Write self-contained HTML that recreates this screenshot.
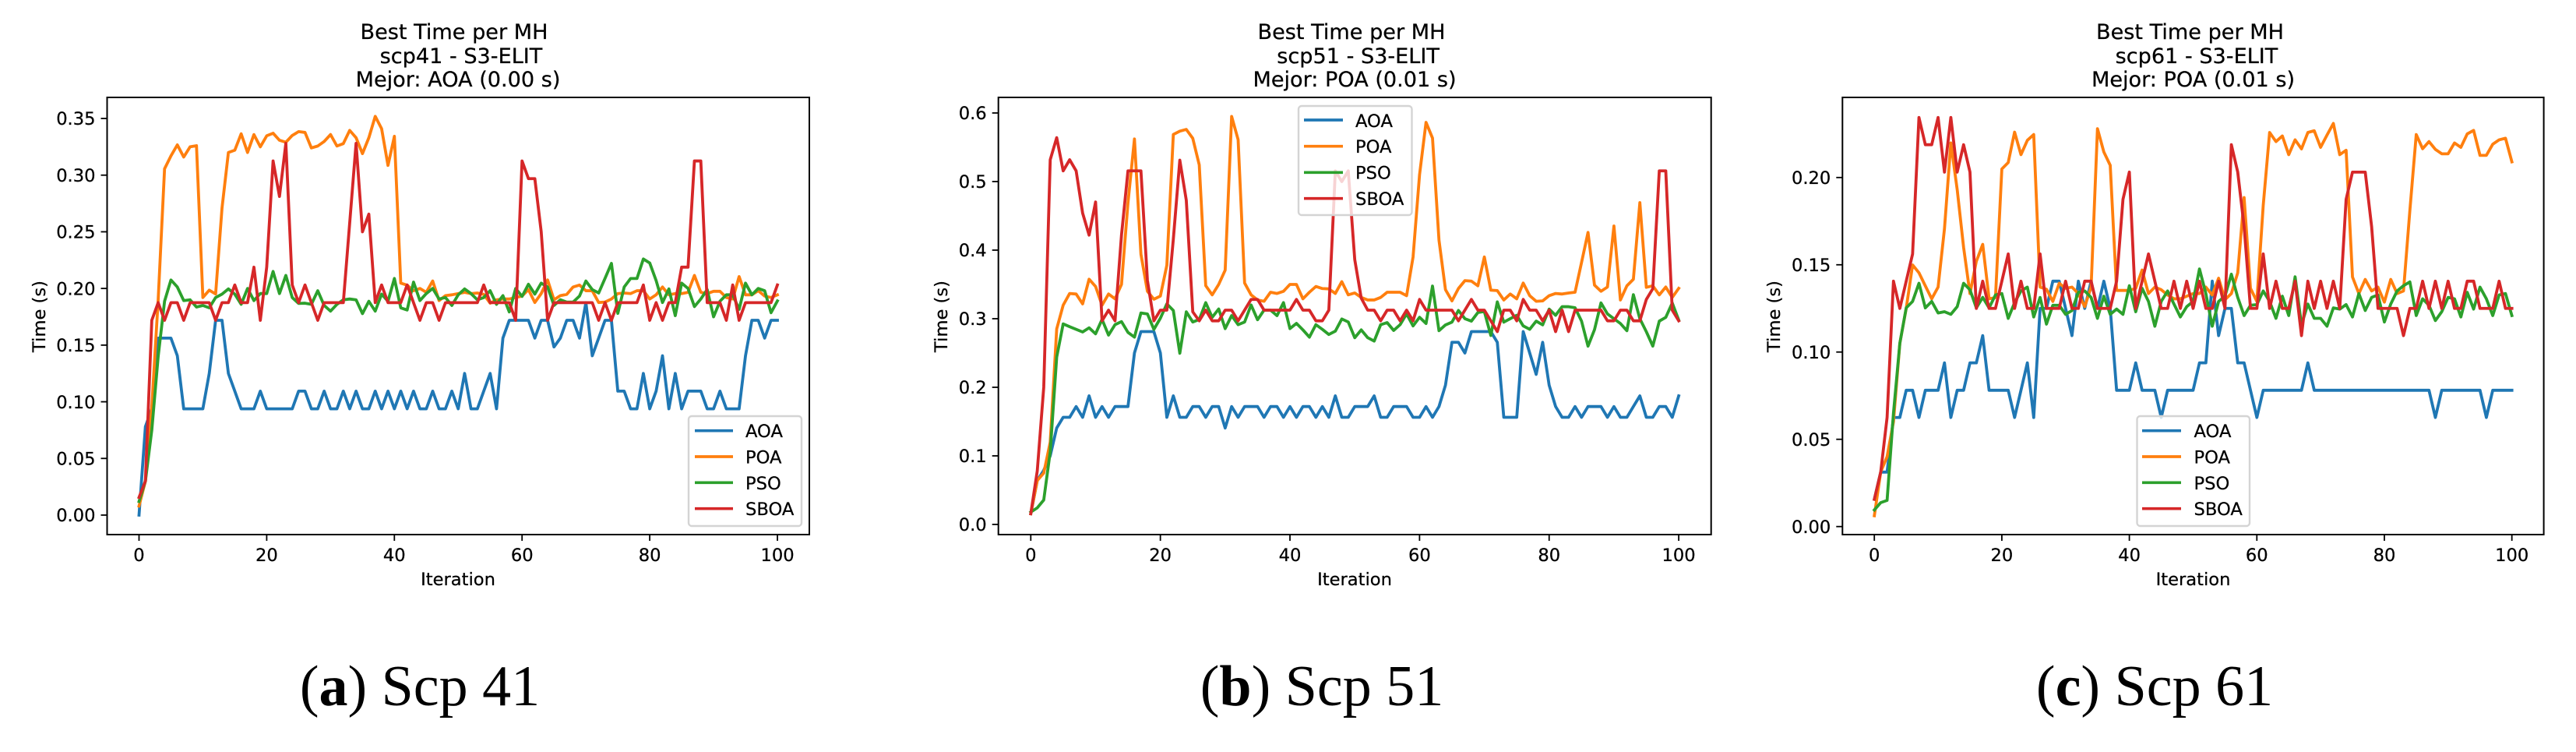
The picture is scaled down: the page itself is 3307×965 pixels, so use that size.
<!DOCTYPE html>
<html lang="en">
<head>
<meta charset="utf-8">
<title>Best Time per MH</title>
<style>
html,body{margin:0;padding:0;background:#fff;}
body{width:3307px;height:965px;overflow:hidden;}
svg{display:block;}
.t{font-family:"DejaVu Sans","Liberation Sans",sans-serif;font-size:22.6px;fill:#000;stroke:#000;stroke-width:.25;}
.t.title{font-size:27.1px;}
.cap{font-family:"Liberation Serif",serif;font-size:74px;fill:#000;}
.cap .b{font-weight:bold;}
.legend-frame{fill:rgba(255,255,255,.8);stroke:#d4d4d4;stroke-width:2.4;}
.h{stroke-width:3.7;fill:none;}
</style>
</head>
<body>
<svg id="figure" xmlns="http://www.w3.org/2000/svg" width="3307" height="965" viewBox="0 0 3307 965">

<g id="panel-a">
  <text class="t title" x="583" y="50" text-anchor="middle">Best Time per MH</text>
  <text class="t title" x="592" y="81" text-anchor="middle">scp41 - S3-ELIT</text>
  <text class="t title" x="588" y="111" text-anchor="middle">Mejor: AOA (0.00 s)</text>
  <text class="t" x="588" y="751" text-anchor="middle">Iteration</text>
  <text class="t" transform="translate(58,406) rotate(-90)" text-anchor="middle">Time (s)</text>
  <g id="marks-a"></g>
  <g>
    <rect class="legend-frame" x="884" y="534" width="145" height="141" rx="4"/>
    <line class="h" x1="892" x2="941" y1="552.7" y2="552.7" stroke="#1f77b4"/>
    <text class="t" x="957" y="561">AOA</text>
    <line class="h" x1="892" x2="941" y1="586" y2="586" stroke="#ff7f0e"/>
    <text class="t" x="957" y="594.5">POA</text>
    <line class="h" x1="892" x2="941" y1="619.3" y2="619.3" stroke="#2ca02c"/>
    <text class="t" x="957" y="628">PSO</text>
    <line class="h" x1="892" x2="941" y1="652.7" y2="652.7" stroke="#d62728"/>
    <text class="t" x="957" y="661">SBOA</text>
  </g>
  <text class="cap" x="539" y="905" text-anchor="middle">(<tspan class="b">a</tspan>) Scp 41</text>
</g>

<g id="panel-b">
  <text class="t title" x="1735" y="50" text-anchor="middle">Best Time per MH</text>
  <text class="t title" x="1743.6" y="81" text-anchor="middle">scp51 - S3-ELIT</text>
  <text class="t title" x="1739" y="111" text-anchor="middle">Mejor: POA (0.01 s)</text>
  <text class="t" x="1739" y="751" text-anchor="middle">Iteration</text>
  <text class="t" transform="translate(1216,406) rotate(-90)" text-anchor="middle">Time (s)</text>
  <g id="marks-b"></g>
  <g>
    <rect class="legend-frame" x="1667" y="136" width="145.5" height="140" rx="4"/>
    <line class="h" x1="1674" x2="1724" y1="154" y2="154" stroke="#1f77b4"/>
    <text class="t" x="1740" y="163">AOA</text>
    <line class="h" x1="1674" x2="1724" y1="187.7" y2="187.7" stroke="#ff7f0e"/>
    <text class="t" x="1740" y="196">POA</text>
    <line class="h" x1="1674" x2="1724" y1="221.3" y2="221.3" stroke="#2ca02c"/>
    <text class="t" x="1740" y="229.5">PSO</text>
    <line class="h" x1="1674" x2="1724" y1="254.7" y2="254.7" stroke="#d62728"/>
    <text class="t" x="1740" y="263">SBOA</text>
  </g>
  <text class="cap" x="1697" y="905" text-anchor="middle">(<tspan class="b">b</tspan>) Scp 51</text>
</g>

<g id="panel-c">
  <text class="t title" x="2811.5" y="50" text-anchor="middle">Best Time per MH</text>
  <text class="t title" x="2820" y="81" text-anchor="middle">scp61 - S3-ELIT</text>
  <text class="t title" x="2815.5" y="111" text-anchor="middle">Mejor: POA (0.01 s)</text>
  <text class="t" x="2815.5" y="751" text-anchor="middle">Iteration</text>
  <text class="t" transform="translate(2285,406) rotate(-90)" text-anchor="middle">Time (s)</text>
  <g id="marks-c"></g>
  <g>
    <rect class="legend-frame" x="2743.5" y="534" width="144.5" height="141" rx="4"/>
    <line class="h" x1="2750" x2="2800" y1="552.7" y2="552.7" stroke="#1f77b4"/>
    <text class="t" x="2816.5" y="561">AOA</text>
    <line class="h" x1="2750" x2="2800" y1="586" y2="586" stroke="#ff7f0e"/>
    <text class="t" x="2816.5" y="594.5">POA</text>
    <line class="h" x1="2750" x2="2800" y1="619.3" y2="619.3" stroke="#2ca02c"/>
    <text class="t" x="2816.5" y="628">PSO</text>
    <line class="h" x1="2750" x2="2800" y1="652.7" y2="652.7" stroke="#d62728"/>
    <text class="t" x="2816.5" y="661">SBOA</text>
  </g>
  <text class="cap" x="2766" y="905" text-anchor="middle">(<tspan class="b">c</tspan>) Scp 61</text>
</g>
</svg>

<script>
var xTickLabels = ["0","20","40","60","80","100"];
var yTickLabels41 = ["0.00","0.05","0.10","0.15","0.20","0.25","0.30","0.35"];
var yTickLabels51 = ["0.0","0.1","0.2","0.3","0.4","0.5","0.6"];
var yTickLabels61 = ["0.00","0.05","0.10","0.15","0.20"];

var aoa41 = [0,.078,.0938,.1562,.1562,.1562,.1406,.0938,.0938,.0938,
.0938,.125,.1719,.1719,.125,.1094,.0938,.0938,.0938,.1094,
.0938,.0938,.0938,.0938,.0938,.1094,.1094,.0938,.0938,.1094,
.0938,.0938,.1094,.0938,.1094,.0938,.0938,.1094,.0938,.1094,
.0938,.1094,.0938,.1094,.0938,.0938,.1094,.0938,.0938,.1094,
.0938,.125,.0938,.0938,.1094,.125,.0938,.1562,.1719,.1719,
.1719,.1719,.1562,.1719,.1719,.1484,.1562,.1719,.1719,.1562,
.1875,.1406,.1562,.1719,.1719,.1094,.1094,.0938,.0938,.125,
.0938,.1094,.1406,.0938,.125,.0938,.1094,.1094,.1094,.0938,
.0938,.1094,.0938,.0938,.0938,.1406,.1719,.1719,.1562,.1719,.1719];
var poa41 = [.008,.03,.095,.19,.3056,.317,.3267,.316,.325,.326,
.192,.1985,.1951,.271,.32,.322,.3365,.32,.3358,.325,
.3347,.337,.3308,.329,.335,.3384,.3377,.324,.3257,.3297,
.3358,.3257,.3278,.3395,.333,.319,.333,.3519,.341,.3086,
.3343,.2047,.2029,.198,.2,.1966,.2066,.1893,.1937,.1944,
.1955,.1966,.1955,.196,.1948,.187,.19,.1907,.1907,.192,
.1933,.199,.1876,.1955,.2075,.19,.1937,.1948,.2013,.203,
.198,.198,.1876,.188,.1907,.1955,.196,.1955,.198,.198,
.1907,.1944,.2013,.1944,.1955,.1955,.1966,.2115,.1966,.1955,
.1975,.1975,.192,.1907,.2105,.1944,.1944,.198,.1933,.192,.1944];
var pso41 = [.012,.03,.075,.14,.1887,.2075,.2013,.1893,.19,.1836,
.185,.1829,.192,.195,.1996,.195,.186,.2,.1893,.1955,
.1955,.215,.1955,.2115,.192,.1868,.187,.186,.198,.185,
.18,.186,.19,.1907,.19,.1778,.1887,.18,.195,.1887,
.2088,.1829,.181,.2056,.1893,.1955,.2,.1907,.192,.185,
.1944,.1996,.1955,.19,.192,.198,.186,.1937,.1793,.2,
.193,.2037,.195,.2047,.2013,.185,.19,.188,.188,.1933,
.2066,.199,.196,.209,.2221,.178,.2013,.2088,.2088,.226,
.2225,.207,.1876,.1996,.176,.2047,.2,.184,.1907,.199,
.175,.1887,.1944,.1944,.1815,.2047,.1944,.2,.198,.1786,.189];
var sboa41 = [.0156,.03,.1719,.1875,.1719,.1875,.1875,.1719,.1875,.1875,
.1875,.1875,.1719,.1875,.1875,.2031,.1875,.1875,.2188,.1719,
.2188,.3125,.2812,.3281,.2031,.1875,.2031,.1875,.1719,.1875,
.1875,.1875,.1875,.2578,.3281,.25,.2656,.1875,.2031,.1875,
.1875,.1875,.2031,.1875,.1719,.1875,.1875,.1719,.1875,.1875,
.1875,.1875,.1875,.1875,.2031,.1875,.1875,.1875,.1875,.1719,
.3125,.2969,.2969,.25,.1719,.1875,.1875,.1875,.1875,.1875,
.1875,.1875,.1719,.1875,.1719,.1875,.1875,.1875,.1875,.2031,
.1719,.1875,.1719,.1875,.1875,.2188,.2188,.3125,.3125,.1875,
.1875,.1875,.1719,.2031,.1719,.1875,.1875,.1875,.1875,.1875,.2031];

var aoa51 = [.0156,.064,.079,.1,.1406,.1562,.1562,.1719,.1562,.1875,
.1562,.1719,.1562,.1719,.1719,.1719,.25,.2812,.2812,.2812,
.25,.1562,.1875,.1562,.1562,.1719,.1719,.1562,.1719,.1719,
.1406,.1719,.1562,.1719,.1719,.1719,.1562,.1719,.1719,.1562,
.1719,.1562,.1719,.1719,.1562,.1719,.1562,.1875,.1562,.1562,
.1719,.1719,.1719,.1875,.1562,.1562,.1719,.1719,.1719,.1562,
.1562,.1719,.1562,.1719,.2031,.2656,.2656,.25,.2812,.2812,
.2812,.2812,.2656,.1562,.1562,.1562,.2812,.25,.2188,.2656,
.2031,.1719,.1562,.1562,.1719,.1562,.1719,.1719,.1719,.1562,
.1719,.1562,.1562,.1719,.1875,.1562,.1562,.1719,.1719,.1562,.1875];
var poa51 = [.0156,.064,.075,.12,.285,.3197,.3368,.336,.3216,.3576,
.347,.3197,.336,.329,.35,.469,.5621,.394,.34,.3284,
.333,.378,.5686,.5735,.576,.563,.5243,.3482,.3348,.35,
.3708,.595,.561,.352,.3348,.3273,.3254,.3386,.3368,.34,
.35,.35,.329,.3386,.347,.344,.3435,.3368,.354,.3348,
.3375,.331,.3273,.3273,.331,.3386,.3386,.3386,.3336,.39,
.51,.5863,.5633,.4144,.3424,.326,.344,.3555,.3548,.348,
.39,.3416,.341,.3273,.336,.329,.352,.3336,.3254,.326,
.3336,.3368,.336,.3375,.3386,.382,.4258,.349,.34,.3462,
.4352,.3273,.348,.3575,.4693,.3458,.348,.3348,.3462,.331,.3443];
var pso51 = [.018,.0242,.0356,.106,.244,.2924,.2883,.2845,.2807,.2867,
.278,.2989,.2761,.2913,.2958,.28,.2731,.3083,.307,.2845,
.3007,.3216,.312,.2496,.31,.2952,.2988,.3234,.302,.3142,
.2856,.3045,.2913,.2952,.32,.2985,.3125,.3125,.3045,.3234,
.2856,.2932,.2837,.2731,.2913,.2845,.277,.2818,.2996,.2952,
.2723,.2837,.2723,.2674,.2913,.2943,.2829,.2913,.307,.2895,
.3021,.293,.3476,.2825,.2909,.295,.312,.3,.2965,.309,
.3105,.2755,.3245,.295,.3,.305,.2895,.2846,.2965,.291,
.314,.305,.3175,.3175,.316,.2965,.26,.284,.323,.307,
.3,.293,.2825,.335,.3,.281,.26,.2965,.302,.323,.298];
var sboa51 = [.0156,.078,.2,.5318,.564,.5156,.5318,.5156,.454,.4219,
.4702,.2969,.3125,.2969,.4219,.5156,.5156,.5156,.3558,.2969,
.3125,.3125,.416,.5312,.4727,.31,.2969,.3125,.2969,.2969,
.3125,.3125,.2969,.3125,.3281,.3281,.3125,.3125,.3125,.3125,
.3125,.3281,.3125,.3125,.2969,.2969,.3125,.5156,.5,.5156,
.3861,.33,.3125,.3125,.2969,.3125,.3125,.2969,.3125,.2969,
.3281,.3125,.3125,.3125,.3125,.3125,.2969,.3125,.3281,.3125,
.3125,.2969,.2812,.3125,.3125,.2969,.3281,.3125,.3125,.2969,
.3125,.2812,.3125,.2812,.3125,.3125,.3125,.3125,.3125,.2969,
.2969,.3125,.3125,.2969,.2969,.3281,.3438,.5156,.5156,.3125,.2969];

var aoa61 = [.0156,.0312,.0312,.0625,.0625,.0781,.0781,.0625,.0781,.0781,
.0781,.0938,.0625,.0781,.0781,.0938,.0938,.1094,.0781,.0781,
.0781,.0781,.0625,.0781,.0938,.0625,.125,.125,.1406,.1406,
.125,.1094,.1406,.125,.1406,.125,.1406,.125,.0781,.0781,
.0781,.0938,.0781,.0781,.0781,.0625,.0781,.0781,.0781,.0781,
.0781,.0938,.0938,.1406,.1094,.125,.125,.0938,.0938,.0781,
.0625,.0781,.0781,.0781,.0781,.0781,.0781,.0781,.0938,.0781,
.0781,.0781,.0781,.0781,.0781,.0781,.0781,.0781,.0781,.0781,
.0781,.0781,.0781,.0781,.0781,.0781,.0781,.0781,.0625,.0781,
.0781,.0781,.0781,.0781,.0781,.0781,.0625,.0781,.0781,.0781,.0781];
var poa61 = [.0062,.0313,.04,.06,.105,.125,.1499,.1454,.1379,.1305,
.1372,.1706,.2198,.193,.16,.1335,.152,.1617,.1305,.1312,
.2049,.2086,.226,.2131,.2213,.2246,.1372,.136,.129,.1394,
.1365,.1372,.1335,.126,.1372,.228,.2146,.207,.1353,.1353,
.1353,.1365,.147,.1335,.1372,.1357,.1327,.1305,.1305,.132,
.1335,.1335,.1372,.1327,.1423,.13,.1335,.1454,.1885,.1365,
.129,.1841,.2258,.2206,.2238,.2131,.2216,.2164,.2258,.2268,
.2173,.2243,.231,.2131,.2156,.143,.1335,.1416,.135,.1372,
.1286,.1416,.1335,.135,.1811,.2246,.2165,.2206,.2161,.2136,
.2136,.2198,.2173,.225,.227,.2127,.2127,.2191,.2216,.2225,.209];
var pso61 = [.0095,.0137,.015,.065,.105,.1253,.129,.1394,.1253,.129,
.1224,.1231,.1216,.126,.1394,.1357,.1253,.1313,.1253,.1327,
.1335,.1193,.1283,.135,.1372,.1201,.1313,.116,.1268,.1268,
.1216,.1238,.1342,.135,.1313,.1193,.132,.1216,.1246,.1216,
.138,.1231,.1365,.129,.1148,.129,.135,.1275,.1201,.126,
.129,.1476,.1335,.1148,.129,.132,.1446,.1313,.1209,.1268,
.1272,.135,.129,.1193,.132,.1209,.1431,.1156,.1275,.1193,
.1193,.1148,.1253,.1246,.1272,.1201,.1335,.1238,.1313,.1327,
.1172,.1275,.135,.138,.1402,.1209,.1305,.1268,.118,.1231,
.1313,.1305,.1201,.1342,.1246,.1372,.1305,.1209,.1327,.1335,.1209];
var sboa61 = [.0156,.0312,.0625,.1406,.125,.1406,.1562,.2344,.2188,.2188,
.2344,.2031,.2344,.2031,.2188,.2031,.125,.1406,.125,.125,
.1406,.1562,.125,.1406,.125,.125,.1562,.125,.125,.125,
.1406,.125,.125,.1406,.1406,.125,.125,.125,.1406,.1875,
.2031,.125,.1406,.1562,.1406,.125,.125,.1406,.125,.1406,
.125,.1406,.125,.125,.1406,.125,.2188,.2031,.1719,.125,
.125,.1562,.125,.1406,.125,.125,.1406,.1094,.1406,.125,
.1406,.125,.1406,.125,.1875,.2031,.2031,.2031,.1719,.125,
.125,.125,.125,.1094,.125,.125,.1406,.125,.1406,.125,
.1406,.125,.125,.1406,.1406,.125,.125,.125,.1406,.125,.125];

var seriesNames = ["aoa","poa","pso","sboa"];
var seriesColors = ["#1f77b4","#ff7f0e","#2ca02c","#d62728"];
var SVGNS = "http://www.w3.org/2000/svg";

function makeLinear(d0, d1, r0, r1) {
  return function (v) { return r0 + (v - d0) * (r1 - r0) / (d1 - d0); };
}

function drawPanel(groupId, frame, yDomain, yLabels, seriesList) {
  var root = document.getElementById(groupId);
  var xScale = makeLinear(-5, 105, frame.left, frame.right);
  var yScale = makeLinear(yDomain[0], yDomain[1], frame.bottom, frame.top);

  var lines = document.createElementNS(SVGNS, "g");
  
  
  root.appendChild(lines);

  seriesList.forEach(function (values, s) {
    var pts = values.map(function (v, i) {
      return xScale(i).toFixed(2) + "," + yScale(v).toFixed(2);
    }).join(" ");
    var line = document.createElementNS(SVGNS, "polyline");
    line.setAttribute("points", pts);
    line.setAttribute("fill", "none");
    line.setAttribute("stroke", seriesColors[s]);
    line.setAttribute("stroke-width", "3.8");
    line.setAttribute("stroke-linejoin", "round");
    line.setAttribute("stroke-linecap", "square");
    
    
    lines.appendChild(line);
  });

  var spine = document.createElementNS(SVGNS, "rect");
  spine.setAttribute("x", frame.left);
  spine.setAttribute("y", frame.top);
  spine.setAttribute("width", frame.right - frame.left);
  spine.setAttribute("height", frame.bottom - frame.top);
  spine.setAttribute("fill", "none");
  spine.setAttribute("stroke", "#000");
  spine.setAttribute("stroke-width", "2");
  
  
  root.appendChild(spine);

  xTickLabels.forEach(function (label) {
    var x = xScale(parseFloat(label));
    var tick = document.createElementNS(SVGNS, "line");
    tick.setAttribute("x1", x);
    tick.setAttribute("x2", x);
    tick.setAttribute("y1", frame.bottom);
    tick.setAttribute("y2", frame.bottom + 8);
    tick.setAttribute("stroke", "#000");
    tick.setAttribute("stroke-width", "1.8");
    
    
    root.appendChild(tick);
    var text = document.createElementNS(SVGNS, "text");
    text.setAttribute("class", "t");
    text.setAttribute("x", x);
    text.setAttribute("y", frame.bottom + 34);
    text.setAttribute("text-anchor", "middle");
    
    
    text.textContent = label;
    root.appendChild(text);
  });

  yLabels.forEach(function (label) {
    var y = yScale(parseFloat(label));
    var tick = document.createElementNS(SVGNS, "line");
    tick.setAttribute("x1", frame.left - 8);
    tick.setAttribute("x2", frame.left);
    tick.setAttribute("y1", y);
    tick.setAttribute("y2", y);
    tick.setAttribute("stroke", "#000");
    tick.setAttribute("stroke-width", "1.8");
    
    
    root.appendChild(tick);
    var text = document.createElementNS(SVGNS, "text");
    text.setAttribute("class", "t");
    text.setAttribute("x", frame.left - 15);
    text.setAttribute("y", y + 8.2);
    text.setAttribute("text-anchor", "end");
    
    
    text.textContent = label;
    root.appendChild(text);
  });
}

drawPanel("marks-a", {left:137.5, right:1039, top:125, bottom:686}, [-0.0172, 0.3686], yTickLabels41, [aoa41, poa41, pso41, sboa41]);
drawPanel("marks-b", {left:1281.7, right:2196.7, top:125, bottom:686}, [-0.0148, 0.6227], yTickLabels51, [aoa51, poa51, pso51, sboa51]);
drawPanel("marks-c", {left:2365.3, right:3265.6, top:125, bottom:686}, [-0.0046, 0.2459], yTickLabels61, [aoa61, poa61, pso61, sboa61]);
</script>
</body>
</html>
